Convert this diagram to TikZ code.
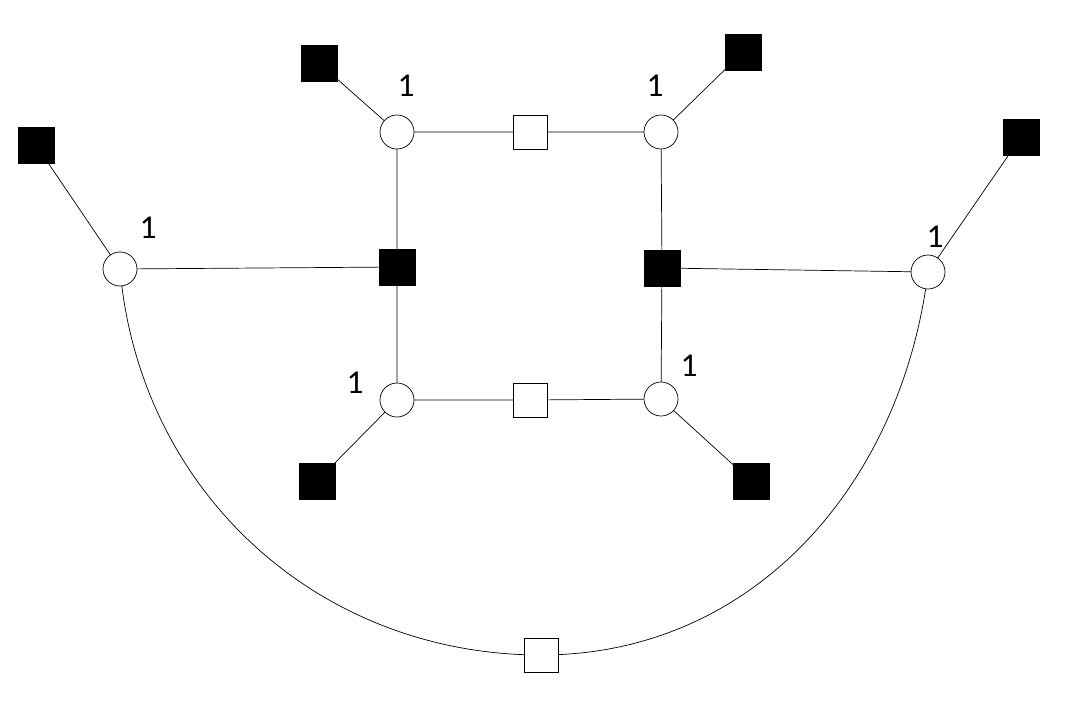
\documentclass[tikz,border=0pt]{standalone}
\usepackage{fontspec}
\setmainfont{Carlito}
\usetikzlibrary{positioning}

\begin{document}
\begin{tikzpicture}[x=0.02cm,y=-0.02cm,
	    varnode/.style= {draw, circle, fill=white, minimum size=0.68cm, inner sep=0pt},
	    facbox/.style= {draw, fill=white, minimum size=0.68cm, inner sep=0pt},
	    obsbox/.style= {draw, fill=black, minimum size=0.72cm, inner sep=0pt},
	    lbl/.style= {font=\fontsize{19}{21}\selectfont}]
		\useasboundingbox (0,0) rectangle (1070,700);

		% Edges first, nodes drawn over them
		\coordinate (c1) at (397,132);
		\coordinate (c2) at (661,132);
		\coordinate (c3) at (120,269);
		\coordinate (c4) at (928,272);
		\coordinate (c5) at (397,400);
		\coordinate (c6) at (661,399);
		\coordinate (w1) at (530,132);
		\coordinate (w2) at (530,400);
		\coordinate (w3) at (541,655);
		\coordinate (b1) at (319,63);
		\coordinate (b2) at (743,52);
		\coordinate (b3) at (36,145);
		\coordinate (b4) at (1021,137);
		\coordinate (b5) at (397,267);
		\coordinate (b6) at (662,268);
		\coordinate (b7) at (317,481);
		\coordinate (b8) at (751,481);

		\draw (c1) -- (w1) -- (c2)  (c5) -- (w2) -- (c6)
		      (c1) -- (b5) -- (c5)  (c2) -- (b6) -- (c6)
		      (c3) -- (b5)  (b6) -- (c4)
		      (c1) -- (b1)  (c2) -- (b2)  (c3) -- (b3)  (c4) -- (b4)
		      (c5) -- (b7)  (c6) -- (b8);
		\draw (c3) to[out=-85,in=180] (w3) to[out=0,in=-97] (c4);

		% Nodes
		\foreach \n in {c1,c2,c3,c4,c5,c6}
		    \node [varnode] (n\n) at (\n) {};
		\foreach \n in {w1,w2,w3}
		    \node [facbox] (n\n) at (\n) {};
		\foreach \n in {b1,b2,b3,b4,b5,b6,b7,b8}
		    \node [obsbox] (n\n) at (\n) {};

		% Labels
		\node [lbl] (l1) at (406,86) {1};
		\node [lbl] (l2) at (655,86) {1};
		\node [lbl] (l3) at (148,228) {1};
		\node [lbl] (l4) at (935,237) {1};
		\node [lbl] (l5) at (355,383) {1};
		\node [lbl] (l6) at (689,366) {1};

	\end{tikzpicture}
\end{document}
